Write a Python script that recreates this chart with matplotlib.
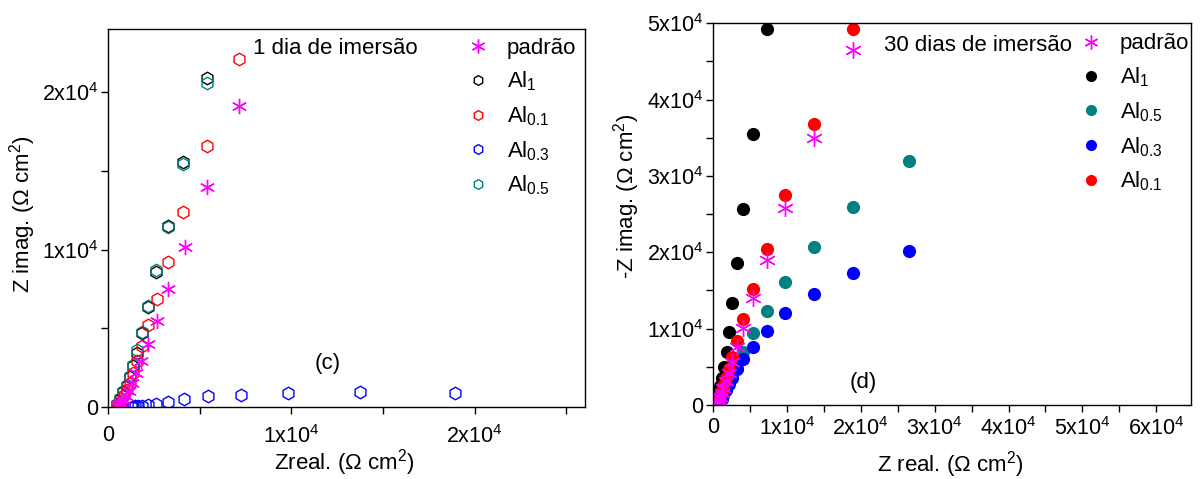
import numpy as np
import matplotlib
matplotlib.use("Agg")
import matplotlib.pyplot as plt
from matplotlib.ticker import MultipleLocator, FuncFormatter
from matplotlib.lines import Line2D

plt.rcParams["font.family"] = ["Liberation Sans", "DejaVu Sans"]
plt.rcParams["mathtext.fontset"] = "custom"
plt.rcParams["mathtext.rm"] = "Liberation Sans"
plt.rcParams["mathtext.it"] = "Liberation Sans:italic"
plt.rcParams["mathtext.default"] = "regular"

# --- (c) 1 dia de imersao : Zreal, Zimag (ohm cm2) ---
c_padrao_x = [7170, 5380, 4190, 3260, 2660, 2170, 1790, 1520, 1300, 1120, 960, 830, 720, 620, 540]
c_padrao_y = [19110, 14010, 10190, 7510, 5480, 4010, 2930, 2170, 1530, 1050, 700, 450, 270, 130, 50]
c_al1_x = [5380, 4080, 3260, 2610, 2170, 1850, 1580, 1380, 1200, 1015, 830, 650, 470]
c_al1_y = [20890, 15540, 11530, 8600, 6370, 4710, 3440, 2600, 1900, 1350, 950, 520, 220]
c_al01_x = [7170, 5380, 4080, 3260, 2660, 2170, 1850, 1580, 1380, 1200, 1040, 900, 780, 680, 590, 520]
c_al01_y = [22100, 16560, 12420, 9240, 6880, 5220, 3900, 2900, 2150, 1550, 1100, 750, 480, 280, 140, 50]
c_al03_x = [18900, 13750, 9800, 7230, 5430, 4170, 3260, 2610, 2170, 1850, 1620, 1480, 1380, 1320]
c_al03_y = [930, 980, 910, 780, 710, 520, 330, 210, 140, 95, 65, 45, 30, 20]
c_al05_x = [5380, 4080, 3260, 2610, 2170, 1850, 1560, 1380, 1200, 1015, 830, 650, 470]
c_al05_y = [20580, 15430, 11470, 8700, 6450, 4800, 3630, 2675, 1950, 1400, 1000, 550, 230]

# --- (d) 30 dias de imersao ---
d_padrao_x = [18900, 13635, 9720, 7290, 5400, 4050, 3240, 2570, 2100, 1700, 1400, 1150, 950, 800, 680, 580]
d_padrao_y = [46500, 34980, 25810, 19000, 14020, 10090, 7600, 5630, 4200, 3100, 2250, 1600, 1100, 700, 400, 180]
d_al1_x = [7290, 5400, 4050, 3240, 2570, 2160, 1890, 1485, 1215, 1000, 850, 720, 620, 540, 480]
d_al1_y = [49260, 35500, 25680, 18600, 13360, 9560, 6940, 4980, 3540, 2500, 1700, 1100, 650, 350, 150]
d_al05_x = [26500, 18900, 13635, 9720, 7290, 5400, 4050, 3240, 2570, 2100, 1700, 1400, 1150, 950, 800]
d_al05_y = [31960, 25940, 20700, 16110, 12310, 9430, 6940, 5370, 4000, 2950, 2150, 1500, 1000, 600, 300]
d_al03_x = [26500, 18900, 13635, 9720, 7290, 5400, 4050, 3240, 2570, 2100, 1700, 1400, 1150, 950, 800]
d_al03_y = [20170, 17290, 14540, 12050, 9690, 7600, 6030, 4720, 3600, 2700, 1950, 1350, 850, 500, 250]
d_al01_x = [18900, 13635, 9720, 7290, 5400, 4050, 3240, 2570, 2100, 1700, 1400, 1150, 950, 800, 680, 580]
d_al01_y = [49260, 36810, 27510, 20440, 15200, 11270, 8380, 6290, 4700, 3500, 2550, 1800, 1250, 800, 450, 200]

MAGENTA = "#ff00ff"
TEAL = "#008080"
STAR = (6, 2, 0)
FS = 16
TFS = 15.5


def sci(v, pos):
    if v == 0:
        return "0"
    e = int(np.floor(np.log10(abs(v))))
    m = v / 10 ** e
    return "%gx10$^{%d}$" % (m, e)


def style_axes(ax, xlim, ylim, xpad):
    ax.set_xlim(*xlim)
    ax.set_ylim(*ylim)
    ax.xaxis.set_major_locator(MultipleLocator(10000))
    ax.xaxis.set_minor_locator(MultipleLocator(5000))
    ax.yaxis.set_major_locator(MultipleLocator(10000))
    ax.yaxis.set_minor_locator(MultipleLocator(5000))
    ax.xaxis.set_major_formatter(FuncFormatter(sci))
    ax.yaxis.set_major_formatter(FuncFormatter(sci))
    ax.tick_params(which="both", direction="out", length=5, width=1,
                   top=False, right=False, labelsize=TFS)
    ax.tick_params(axis="x", pad=xpad)
    ax.tick_params(axis="y", pad=2)
    for s in ax.spines.values():
        s.set_linewidth(1)


fig = plt.figure(figsize=(12.01, 4.79), dpi=100)
ax1 = fig.add_axes([0.0899, 0.150, 0.397, 0.789])
ax2 = fig.add_axes([0.5937, 0.1545, 0.398, 0.797])

# painel (c): hexagonos abertos
hexkw = dict(ls="none", marker="h", ms=9, mfc="none", mew=1)
ax1.plot(c_al1_x, c_al1_y, mec="black", **hexkw)
ax1.plot(c_al05_x, c_al05_y, mec=TEAL, **hexkw)
ax1.plot(c_al01_x, c_al01_y, mec="red", **hexkw)
ax1.plot(c_al03_x, c_al03_y, mec="blue", **hexkw)
ax1.plot(c_padrao_x, c_padrao_y, ls="none", marker=STAR, ms=11, mec=MAGENTA, mew=1)
style_axes(ax1, (0, 26000), (0, 24000), xpad=8)
ax1.set_xlabel("Zreal. ($\\Omega$ cm$^2$)", fontsize=FS)
ax1.set_ylabel("Z imag. ($\\Omega$ cm$^2$)", fontsize=FS)
ax1.xaxis.set_label_coords(0.495, -0.106)
ax1.yaxis.set_label_coords(-0.147, 0.51)
ax1.text(0.476, 0.950, "1 dia de imersão", transform=ax1.transAxes,
         fontsize=FS, ha="center", va="center")
ax1.text(0.461, 0.116, "(c)", transform=ax1.transAxes,
         fontsize=FS, ha="center", va="center")

lhex = dict(ls="none", marker="h", ms=7, mfc="none", mew=1)
h1 = [Line2D([], [], ls="none", marker=STAR, ms=10, mec=MAGENTA, mew=1),
      Line2D([], [], mec="black", **lhex),
      Line2D([], [], mec="red", **lhex),
      Line2D([], [], mec="blue", **lhex),
      Line2D([], [], mec=TEAL, **lhex)]
ax1.legend(h1, ["padrão", "Al$_1$", "Al$_{0.1}$", "Al$_{0.3}$", "Al$_{0.5}$"],
           loc="upper left", bbox_to_anchor=(0.715, 1.025), frameon=False,
           fontsize=FS, handlelength=1.0, handletextpad=0.8, labelspacing=0.5,
           borderpad=0.3)

# painel (d): circulos cheios
dotkw = dict(ls="none", marker="o", ms=9.5, mew=0)
ax2.plot(d_al1_x, d_al1_y, mfc="black", **dotkw)
ax2.plot(d_al05_x, d_al05_y, mfc=TEAL, **dotkw)
ax2.plot(d_al03_x, d_al03_y, mfc="blue", **dotkw)
ax2.plot(d_al01_x, d_al01_y, mfc="red", **dotkw)
ax2.plot(d_padrao_x, d_padrao_y, ls="none", marker=STAR, ms=12, mec=MAGENTA, mew=1)
style_axes(ax2, (0, 64700), (0, 50000), xpad=4)
ax2.set_xlabel("Z real. ($\\Omega$ cm$^2$)", fontsize=FS)
ax2.set_ylabel("-Z imag. ($\\Omega$ cm$^2$)", fontsize=FS)
ax2.xaxis.set_label_coords(0.496, -0.116)
ax2.yaxis.set_label_coords(-0.149, 0.547)
ax2.text(0.554, 0.942, "30 dias de imersão", transform=ax2.transAxes,
         fontsize=FS, ha="center", va="center")
ax2.text(0.314, 0.058, "(d)", transform=ax2.transAxes,
         fontsize=FS, ha="center", va="center")

ldot = dict(ls="none", marker="o", ms=8, mew=0)
h2 = [Line2D([], [], ls="none", marker=STAR, ms=10, mec=MAGENTA, mew=1),
      Line2D([], [], mfc="black", **ldot),
      Line2D([], [], mfc=TEAL, **ldot),
      Line2D([], [], mfc="blue", **ldot),
      Line2D([], [], mfc="red", **ldot)]
ax2.legend(h2, ["padrão", "Al$_1$", "Al$_{0.5}$", "Al$_{0.3}$", "Al$_{0.1}$"],
           loc="upper left", bbox_to_anchor=(0.73, 1.02), frameon=False,
           fontsize=FS, handlelength=1.0, handletextpad=0.8, labelspacing=0.5,
           borderpad=0.3)

fig.savefig("out.png", dpi=100)
